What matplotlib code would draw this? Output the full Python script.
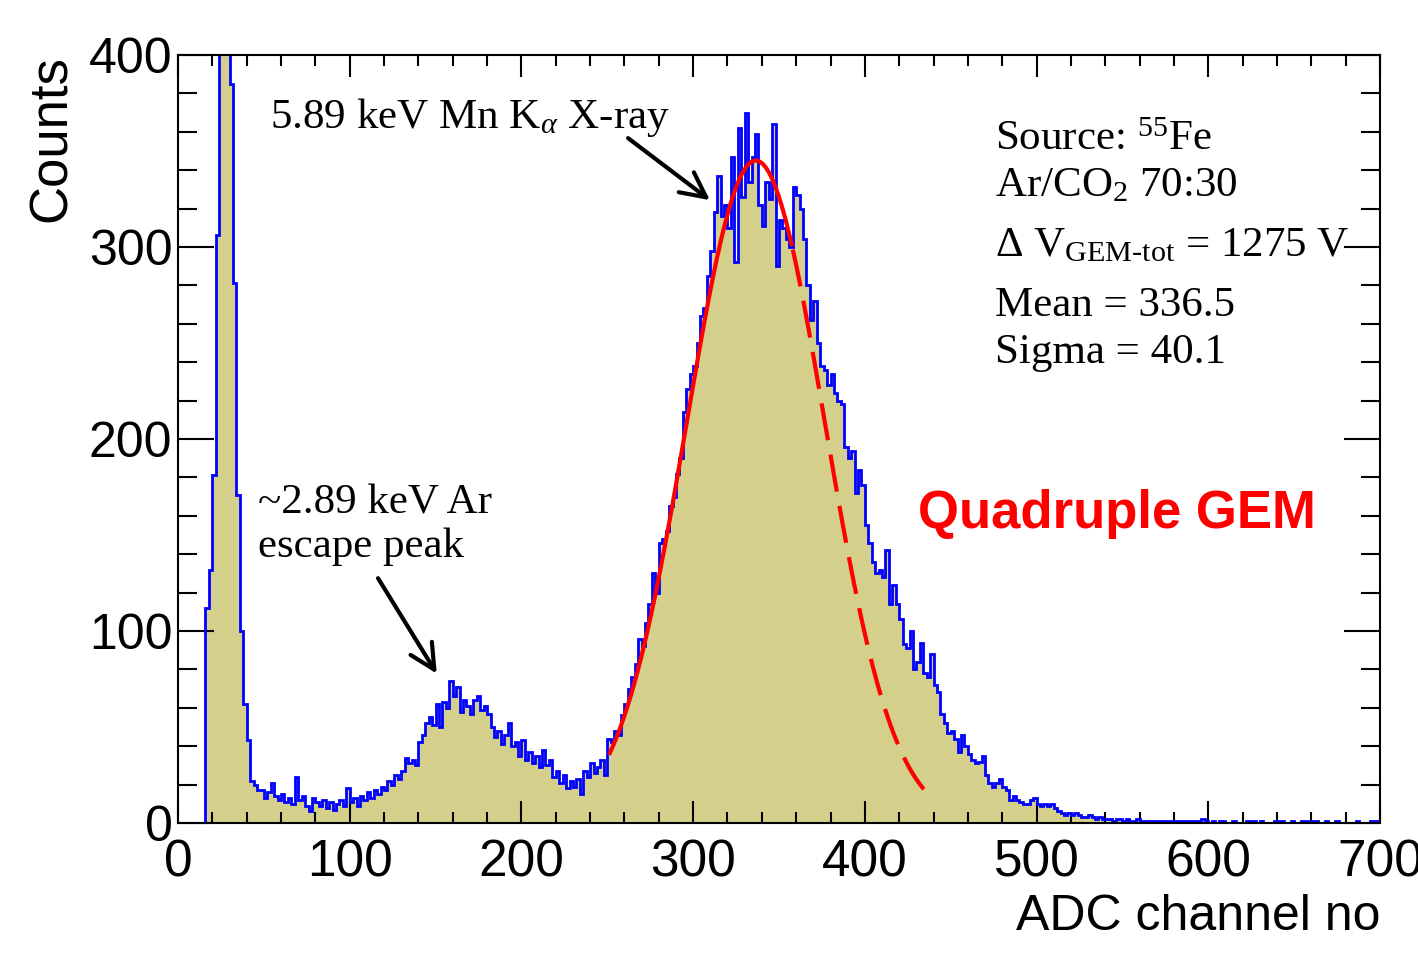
import numpy as np
import matplotlib.pyplot as plt
from matplotlib.ticker import MultipleLocator

# serif text (ROOT Times) for the annotations
plt.rcParams['mathtext.fontset'] = 'custom'
plt.rcParams['mathtext.rm'] = 'Liberation Serif'
plt.rcParams['mathtext.it'] = 'Liberation Serif:italic'
plt.rcParams['mathtext.bf'] = 'Liberation Serif:bold'

# histogram: 2-channel bins starting at ADC channel 16
first_edge = 16
bin_width = 2

# channels 16-48 (pedestal / noise peak, goes off scale)
pedestal = [112, 132, 181, 306, 470, 560, 520, 385, 281, 171, 100, 62, 43, 22, 20, 17]

# channels 48-120
low_region = [17, 13, 16, 21, 14, 12, 15, 11, 13, 10, 24, 12, 14, 9, 6, 13, 11, 9,
              12, 8, 11, 7, 10, 12, 9, 18, 11, 13, 9, 14, 12, 16, 13, 17, 15, 19]

# channels 120-250 (Ar escape peak)
escape_region = [17, 22, 20, 25, 23, 27, 34, 31, 33, 30, 42, 46, 52, 55, 51, 62, 50,
                 63, 60, 74, 66, 71, 58, 64, 61, 57, 64, 66, 59, 61, 57, 50, 45, 48,
                 41, 46, 52, 40, 42, 35, 43, 33, 37, 31, 35, 29, 38, 30, 33, 24, 27,
                 21, 25, 18, 22, 19, 23, 15, 27, 24, 31, 26, 29, 33, 25]

# channels 250-450 (5.89 keV photo peak)
main_peak = [44, 42, 48, 46, 56, 62, 70, 76, 83, 96,
             92, 104, 114, 130, 120, 146, 148, 152, 165, 170,
             182, 190, 214, 226, 234, 238, 250, 264, 268, 285,
             298, 318, 337, 316, 322, 310, 347, 292, 362, 326,
             370, 334, 347, 359, 322, 311, 334, 325, 364, 290,
             314, 310, 304, 300, 331, 327, 320, 304, 280, 262,
             272, 250, 238, 236, 228, 234, 224, 220, 218, 196,
             190, 194, 172, 184, 176, 155, 146, 136, 130, 132,
             128, 142, 114, 124, 114, 106, 93, 91, 100, 80,
             84, 94, 78, 76, 88, 72, 68, 57, 52, 47]

# channels 450-700
tail = [48, 44, 37, 46, 40, 36, 33, 31, 32, 35,
        25, 21, 19, 21, 23, 19, 17, 12, 14, 12,
        11, 10, 10, 12, 13, 10, 9, 10, 9, 10,
        8, 6, 5, 4, 5, 4, 5, 4, 3, 3,
        4, 3, 2, 3, 2, 2, 2, 1, 2, 2,
        1, 2, 1, 1, 2, 1, 1, 1, 1, 1,
        1, 1, 1, 1, 1, 1, 1, 1, 1, 1,
        1, 1, 1, 2, 1, 0, 1, 0, 1, 1,
        0, 0, 1, 0, 0, 0, 1, 1, 1, 0,
        1, 0, 0, 0, 1, 1, 1, 0, 0, 1,
        0, 0, 1, 1, 0, 1, 1, 0, 0, 1,
        0, 0, 1, 0, 0, 0, 0, 0, 1, 0,
        0, 0, 1, 1, 0]

counts = np.array(pedestal + low_region + escape_region + main_peak + tail)
edges = first_edge + bin_width * np.arange(len(counts) + 1)

# gaussian fit shown on the plot
fit_amp = 345.0
fit_mean = 336.5
fit_sigma = 40.1
fit_lo, fit_split, fit_hi = 251, 358, 440

fig = plt.figure(figsize=(14.18, 9.55), dpi=100)
ax = fig.add_axes([178 / 1418, 1 - 823 / 955, (1380 - 178) / 1418, (823 - 55) / 955])

ax.stairs(counts, edges, fill=True, color='#d4cf8b', lw=0, zorder=1)
ax.stairs(counts, edges, color='#0000ff', lw=2, zorder=2)

xf = np.linspace(fit_lo, fit_hi, 400)
yf = fit_amp * np.exp(-0.5 * ((xf - fit_mean) / fit_sigma) ** 2)
solid = xf <= fit_split
ax.plot(xf[solid], yf[solid], color='#ff0000', lw=3, zorder=3, solid_capstyle='butt')
dashed, = ax.plot(xf[xf >= fit_split], yf[xf >= fit_split], color='#ff0000', lw=3, zorder=3)
dashed.set_dashes((9, 3.5))

ax.set_xlim(0, 700)
ax.set_ylim(0, 400)
ax.xaxis.set_major_locator(MultipleLocator(100))
ax.xaxis.set_minor_locator(MultipleLocator(20))
ax.yaxis.set_major_locator(MultipleLocator(100))
ax.yaxis.set_minor_locator(MultipleLocator(20))

ax.tick_params(which='both', direction='in', top=True, right=True, width=1.5, colors='black')
ax.tick_params(axis='x', which='major', length=16, pad=11, labelsize=37)
ax.tick_params(axis='x', which='minor', length=8)
ax.tick_params(axis='y', which='major', length=26, pad=4, labelsize=36)
ax.tick_params(axis='y', which='minor', length=13.5)
for s in ax.spines.values():
    s.set_linewidth(1.5)
    s.set_zorder(5)

for lbl in ax.get_xticklabels():
    lbl.set_fontfamily(['Liberation Sans Narrow', 'Liberation Sans'])
for lbl in ax.get_yticklabels():
    lbl.set_fontfamily('Liberation Sans')

# axis titles (ROOT style, at the axis ends)
fig.text(52 / 1418, 1 - 55 / 955, 'Counts', rotation=90, ha='center', va='top',
         size=38, family='Liberation Sans')
fig.text(1380 / 1418, 1 - 930 / 955, 'ADC channel no', ha='right', va='baseline',
         size=36, family='Liberation Sans')

serif = dict(family='Liberation Serif', size=31, va='baseline')
fig.text(270 / 1418, 1 - 128 / 955, r'5.89 keV Mn K$_{\alpha}$ X-ray', **serif)
fig.text(258 / 1418, 1 - 513 / 955, '~2.89 keV Ar', **serif)
fig.text(258 / 1418, 1 - 557 / 955, 'escape peak', **serif)

fig.text(995 / 1418, 1 - 150 / 955, r'Source: $^{55}$Fe', **serif)
fig.text(995 / 1418, 1 - 196 / 955, r'Ar/CO$_{2}$ 70:30', **serif)
fig.text(995 / 1418, 1 - 256 / 955, r'$\Delta$ V$_{\mathrm{GEM‐tot}}$ = 1275 V', **serif)
fig.text(995 / 1418, 1 - 316 / 955, 'Mean = 336.5', **serif)
fig.text(995 / 1418, 1 - 363 / 955, 'Sigma = 40.1', **serif)

fig.text(918 / 1418, 1 - 528 / 955, 'Quadruple GEM', color='#ff0000', weight='bold',
         size=38, family='Liberation Sans', va='baseline')

# arrows pointing at the two peaks
arrow = dict(arrowstyle='->,head_length=0.9,head_width=0.45', lw=3, color='black',
             mutation_scale=20, shrinkA=0, shrinkB=0)
ax.annotate('', xy=(309.8, 324.4), xytext=(262.1, 356.7), arrowprops=arrow)
ax.annotate('', xy=(150.7, 77.8), xytext=(116.5, 127.5), arrowprops=arrow)

fig.savefig('out.png', dpi=100)
